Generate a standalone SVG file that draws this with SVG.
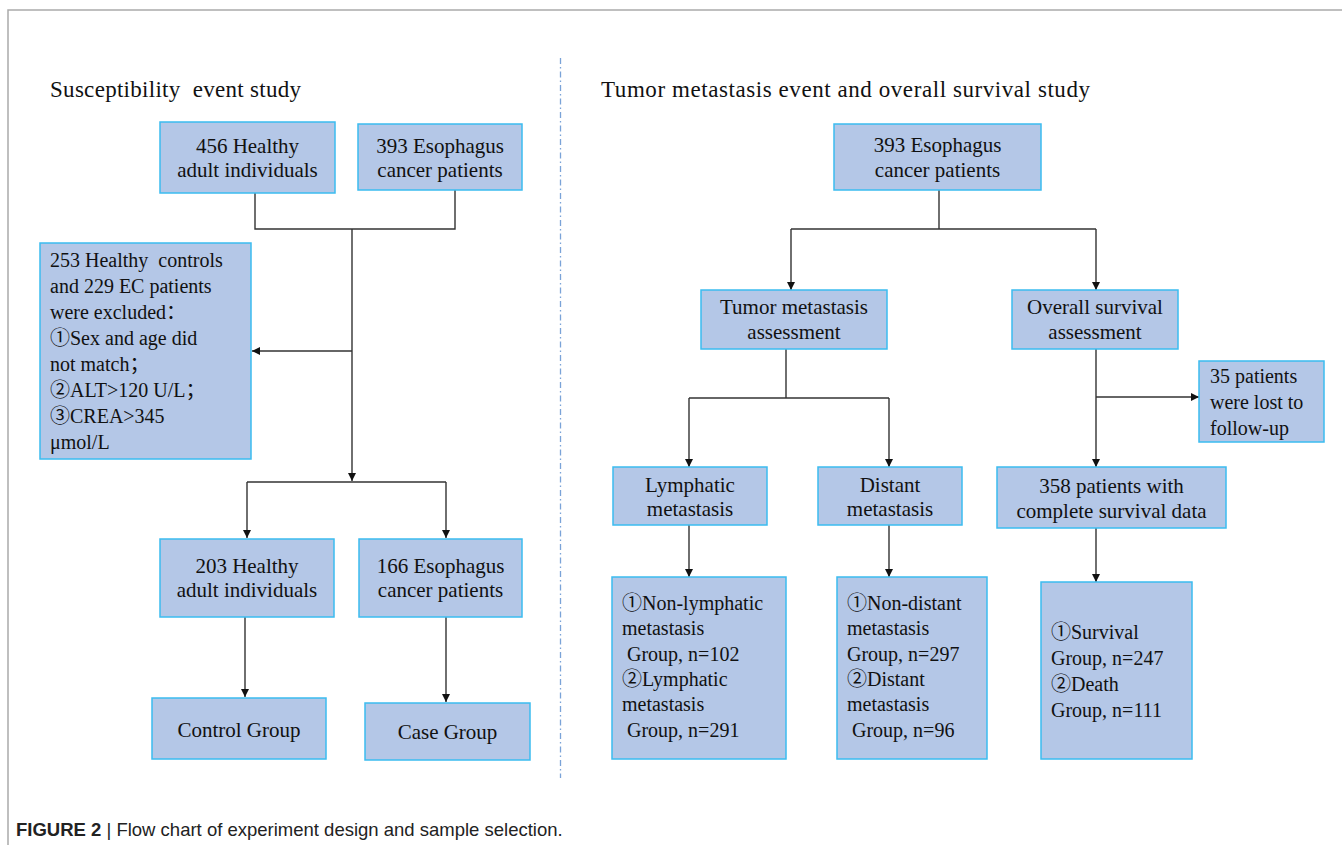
<svg xmlns="http://www.w3.org/2000/svg" width="1342" height="845" viewBox="0 0 1342 845">
<style>
.box{fill:#b4c7e7;stroke:#3bbcf0;stroke-width:1.5}
.t{font-family:"Liberation Serif","Times New Roman","Noto Sans CJK SC",serif;fill:#111}
.c{text-anchor:middle;font-size:21px}
.l{font-size:20px}
.title{font-size:23px}
.ln{fill:none;stroke:#333;stroke-width:1.4}
.ar{marker-end:url(#ah)}
.cap{font-family:"Liberation Sans",Arial,sans-serif;font-size:18.5px;fill:#222}
</style>
<defs>
<marker id="ah" markerUnits="userSpaceOnUse" markerWidth="10" markerHeight="10" refX="8" refY="4" orient="auto">
<path d="M0,0 L8,4 L0,8 z" fill="#111"/>
</marker>
</defs>
<rect width="1342" height="845" fill="#fff"/>
<path d="M8,845 V10 H1342" fill="none" stroke="#aaa" stroke-width="1.5"/>
<line x1="560.5" y1="58" x2="560.5" y2="778" stroke="#7aa3d8" stroke-width="1.3" stroke-dasharray="6 3 1.5 3"/>
<text class="t title" x="50" y="97" textLength="251" lengthAdjust="spacing" xml:space="preserve">Susceptibility  event study</text>
<text class="t title" x="601" y="97" textLength="489" lengthAdjust="spacing">Tumor metastasis event and overall survival study</text>

<g id="connectors">
<path class="ln" d="M255,193 V229 H455 V190"/>
<path class="ln ar" d="M352,229 V481"/>
<path class="ln ar" d="M352,351 H252"/>
<path class="ln" d="M247,482 H446"/>
<path class="ln ar" d="M247,482 V538"/>
<path class="ln ar" d="M446,482 V538"/>
<path class="ln ar" d="M245,617 V697"/>
<path class="ln ar" d="M446,617 V702"/>
<path class="ln" d="M939,190 V229"/>
<path class="ln" d="M791,229 H1096"/>
<path class="ln ar" d="M791,229 V290"/>
<path class="ln ar" d="M1096,229 V290"/>
<path class="ln" d="M786,349 V398"/>
<path class="ln" d="M689,398 H889"/>
<path class="ln ar" d="M689,398 V467"/>
<path class="ln ar" d="M889,398 V467"/>
<path class="ln ar" d="M1096,349 V467"/>
<path class="ln ar" d="M1096,397 H1199"/>
<path class="ln ar" d="M689,525 V577"/>
<path class="ln ar" d="M889,525 V577"/>
<path class="ln ar" d="M1096,528 V582"/>
</g>

<g id="n-healthy456">
<rect class="box" x="160" y="122" width="175" height="71"/>
<text class="t c" x="247.5" y="153">456 Healthy</text>
<text class="t c" x="247.5" y="177">adult individuals</text>
</g>
<g id="n-ec393-left">
<rect class="box" x="358" y="124" width="164" height="66"/>
<text class="t c" x="440" y="153">393 Esophagus</text>
<text class="t c" x="440" y="177">cancer patients</text>
</g>
<g id="n-excluded">
<rect class="box" x="40" y="243" width="211" height="216"/>
<text class="t l" x="50" y="267" xml:space="preserve">253 Healthy  controls</text>
<text class="t l" x="50" y="293">and 229 EC patients</text>
<text class="t l" x="50" y="319">were excluded：</text>
<text class="t l" x="50" y="345">①Sex and age did</text>
<text class="t l" x="50" y="371">not match；</text>
<text class="t l" x="50" y="397">②ALT&gt;120 U/L；</text>
<text class="t l" x="50" y="423">③CREA&gt;345</text>
<text class="t l" x="50" y="449">μmol/L</text>
</g>
<g id="n-healthy203">
<rect class="box" x="160" y="539" width="174" height="78"/>
<text class="t c" x="247" y="573">203 Healthy</text>
<text class="t c" x="247" y="597">adult individuals</text>
</g>
<g id="n-ec166">
<rect class="box" x="359" y="539" width="163" height="78"/>
<text class="t c" x="440.5" y="573">166 Esophagus</text>
<text class="t c" x="440.5" y="597">cancer patients</text>
</g>
<g id="n-control">
<rect class="box" x="152" y="698" width="174" height="61"/>
<text class="t c" x="239" y="737">Control Group</text>
</g>
<g id="n-case">
<rect class="box" x="365" y="703" width="165" height="57"/>
<text class="t c" x="447.5" y="739">Case Group</text>
</g>

<g id="n-ec393-right">
<rect class="box" x="834" y="124" width="207" height="66"/>
<text class="t c" x="937.5" y="152">393 Esophagus</text>
<text class="t c" x="937.5" y="177">cancer patients</text>
</g>
<g id="n-tumor-assess">
<rect class="box" x="701" y="290" width="186" height="59"/>
<text class="t c" x="794" y="314">Tumor metastasis</text>
<text class="t c" x="794" y="339">assessment</text>
</g>
<g id="n-os-assess">
<rect class="box" x="1012" y="290" width="166" height="59"/>
<text class="t c" x="1095" y="314">Overall survival</text>
<text class="t c" x="1095" y="339">assessment</text>
</g>
<g id="n-lost">
<rect class="box" x="1199" y="361" width="125" height="81"/>
<text class="t l" x="1210" y="383">35 patients</text>
<text class="t l" x="1210" y="409">were lost to</text>
<text class="t l" x="1210" y="435">follow-up</text>
</g>
<g id="n-lymphatic">
<rect class="box" x="613" y="467" width="154" height="58"/>
<text class="t c" x="690" y="492">Lymphatic</text>
<text class="t c" x="690" y="516">metastasis</text>
</g>
<g id="n-distant">
<rect class="box" x="818" y="467" width="144" height="58"/>
<text class="t c" x="890" y="492">Distant</text>
<text class="t c" x="890" y="516">metastasis</text>
</g>
<g id="n-complete358">
<rect class="box" x="997" y="467" width="229" height="61"/>
<text class="t c" x="1111.5" y="493">358 patients with</text>
<text class="t c" x="1111.5" y="518">complete survival data</text>
</g>
<g id="n-lymph-groups">
<rect class="box" x="612" y="577" width="174" height="182"/>
<text class="t l" x="622" y="610">①Non-lymphatic</text>
<text class="t l" x="622" y="635">metastasis</text>
<text class="t l" x="627" y="661">Group, n=102</text>
<text class="t l" x="622" y="686">②Lymphatic</text>
<text class="t l" x="622" y="711">metastasis</text>
<text class="t l" x="627" y="737">Group, n=291</text>
</g>
<g id="n-distant-groups">
<rect class="box" x="837" y="577" width="150" height="182"/>
<text class="t l" x="847" y="610">①Non-distant</text>
<text class="t l" x="847" y="635">metastasis</text>
<text class="t l" x="847" y="661">Group, n=297</text>
<text class="t l" x="847" y="686">②Distant</text>
<text class="t l" x="847" y="711">metastasis</text>
<text class="t l" x="852" y="737">Group, n=96</text>
</g>
<g id="n-survival-groups">
<rect class="box" x="1041" y="582" width="151" height="177"/>
<text class="t l" x="1051" y="639">①Survival</text>
<text class="t l" x="1051" y="665">Group, n=247</text>
<text class="t l" x="1051" y="691">②Death</text>
<text class="t l" x="1051" y="717">Group, n=111</text>
</g>

<text class="cap" x="16" y="836"><tspan font-weight="bold">FIGURE 2</tspan> | Flow chart of experiment design and sample selection.</text>
</svg>
